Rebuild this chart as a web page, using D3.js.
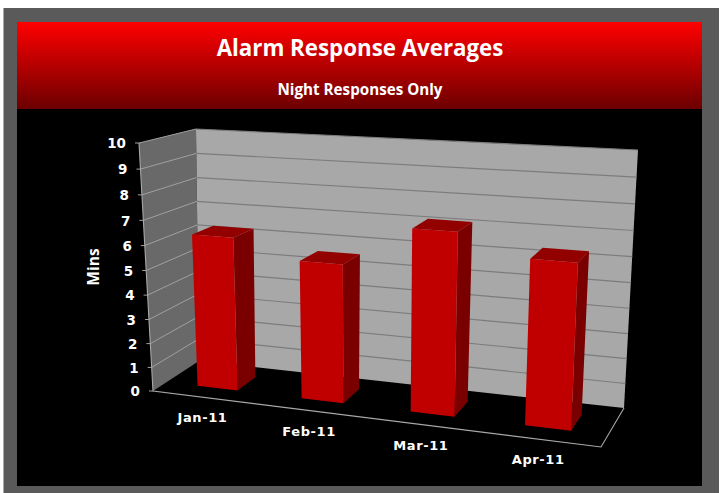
<!DOCTYPE html>
<html><head><meta charset="utf-8">
<style>html,body{margin:0;padding:0;background:#fff}svg{display:block}</style>
<script src="https://cdnjs.cloudflare.com/ajax/libs/d3/7.8.5/d3.min.js"></script>
</head><body><svg id="c" width="724" height="493"></svg>
<script>
const categories = ["Jan-11","Feb-11","Mar-11","Apr-11"];
const values = [6.3,5.6,7.2,6.4];
const yTicks = [0,1,2,3,4,5,6,7,8,9,10];
const titleText = "Alarm Response Averages";
const subtitleText = "Night Responses Only";
const yAxisTitle = "Mins";

const svg = d3.select("#c");
const defs = svg.append("defs");
const g = defs.append("linearGradient").attr("id","hdr").attr("x1",0).attr("x2",0).attr("y1",0).attr("y2",1);
g.append("stop").attr("offset","0%").attr("stop-color","#ff0000");
g.append("stop").attr("offset","100%").attr("stop-color","#6c0000");

// frame
svg.append("rect").attr("x",3).attr("y",8).attr("width",716).attr("height",485).attr("fill","#5a5a5a");
svg.append("rect").attr("x",3).attr("y",8).attr("width",1).attr("height",485).attr("fill","#a8a8a8");
svg.append("rect").attr("x",17).attr("y",109).attr("width",685).attr("height",377).attr("fill","#000");
svg.append("rect").attr("x",17).attr("y",22).attr("width",685).attr("height",87).attr("fill","url(#hdr)");
const headFont = "'Open Sans','Noto Sans',sans-serif";
svg.append("text").attr("x",360).attr("y",56).attr("text-anchor","middle").attr("fill","#fff")
  .attr("font-family",headFont).attr("font-weight",700).attr("font-size",22.3).text(titleText);
svg.append("text").attr("x",360).attr("y",95).attr("text-anchor","middle").attr("fill","#fff")
  .attr("font-family",headFont).attr("font-weight",700).attr("font-size",15.2).text(subtitleText);

// projection: box corners on screen (f=front, b=back, l/r, bottom/top)
const C = {
  flb:[153,391], frb:[601,447], blb:[199,361], brb:[624,408],
  flt:[139,143], frt:[613,171], blt:[196,129], brt:[638,150]
};
const persp = k => t => t/(t + k*(1-t));
const pu = persp(1.1), pv = persp(1.058);
const lerp = (a,b,t)=>[a[0]+(b[0]-a[0])*t, a[1]+(b[1]-a[1])*t];
function P(u,d,v){
  const U=pu(u), V=pv(v);
  const bot=lerp(lerp(C.flb,C.frb,U),lerp(C.blb,C.brb,U),d);
  const top=lerp(lerp(C.flt,C.frt,U),lerp(C.blt,C.brt,U),d);
  return lerp(bot,top,V);
}
const x = d3.scaleBand().domain(categories).range([0,1]).paddingInner(0.61).paddingOuter(0.305);
const y = d3.scaleLinear().domain([0,10]).range([0,1]);
const line = d3.line();
const poly = pts => line(pts)+"Z";

// walls
svg.append("path").attr("d",poly([P(0,0,0),P(0,0,1),P(0,1,1),P(0,1,0)])).attr("fill","#696969");
svg.append("path").attr("d",poly([P(0,1,0),P(0,1,1),P(1,1,1),P(1,1,0)])).attr("fill","#a8a8a8");

// gridlines and ticks
yTicks.forEach(t=>{
  const v=y(t);
  if(t>0){
    svg.append("path").attr("d",line([P(0,1,v),P(1,1,v)])).attr("stroke","#7c7c7c").attr("stroke-width",1.2).attr("fill","none");
    svg.append("path").attr("d",line([P(0,0,v),P(0,1,v)])).attr("stroke","#a0a0a0").attr("stroke-width",1).attr("fill","none");
  }
  const p=P(0,0,v);
  svg.append("path").attr("d",line([[p[0]-4,p[1]],p])).attr("stroke","#a0a0a0").attr("stroke-width",1).attr("fill","none");
  svg.append("text").attr("x",p[0]-13).attr("y",p[1]+0.5).attr("dy","0.36em").attr("text-anchor","end").attr("fill","#fff")
    .attr("font-family","'DejaVu Sans',sans-serif").attr("font-weight",700).attr("font-size",13.5).text(t);
});
// edges
svg.append("path").attr("d",line([P(0,0,1),P(0,0,0),P(1,0,0),P(1,1,0)])).attr("stroke","#a8a8a8").attr("stroke-width",1.1).attr("fill","none");

// bars
const d0=0.30, d1=0.72;
categories.forEach((c,i)=>{
  const a=x(c), b=a+x.bandwidth(), h=y(values[i]);
  svg.append("path").attr("d",poly([P(b,d0,0),P(b,d1,0),P(b,d1,h),P(b,d0,h)])).attr("fill","#7a0000");
  svg.append("path").attr("d",poly([P(a,d0,h),P(b,d0,h),P(b,d1,h),P(a,d1,h)])).attr("fill","#920000");
  svg.append("path").attr("d",poly([P(a,d0,0),P(b,d0,0),P(b,d0,h),P(a,d0,h)])).attr("fill","#c00000");
  // category label
  const p=P(a+x.bandwidth()/2,0,0);
  svg.append("text").attr("x",p[0]-2).attr("y",p[1]+25).attr("text-anchor","middle").attr("fill","#fff")
    .attr("font-family","'DejaVu Sans',sans-serif").attr("font-weight",700).attr("font-size",13).attr("letter-spacing",0.6).text(c);
});

// axis title
svg.append("text").attr("transform","translate(99,267) rotate(-90)").attr("text-anchor","middle").attr("fill","#fff")
  .attr("font-family",headFont).attr("font-weight",700).attr("font-size",15.5).text(yAxisTitle);
</script></body></html>
